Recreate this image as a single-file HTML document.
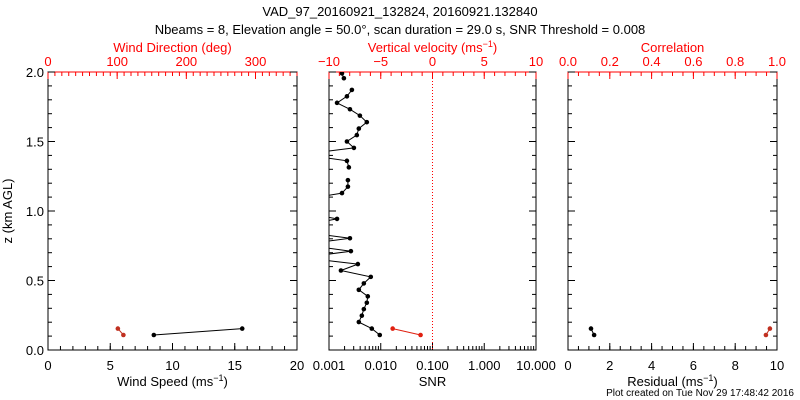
<!DOCTYPE html>
<html><head><meta charset="utf-8"><style>
body{margin:0;background:#fff;}
svg{display:block;font-family:"Liberation Sans",sans-serif;}
</style></head><body>
<svg id="c" width="800" height="400"></svg>
<script>
const heights=[0.108,0.154,0.201,0.247,0.294,0.340,0.386,0.433,0.479,0.526,0.572,0.618,0.665,0.711,0.758,0.804,0.850,0.897,0.943,0.990,1.036,1.082,1.129,1.175,1.222,1.268,1.314,1.361,1.407,1.454,1.500,1.546,1.593,1.639,1.686,1.732,1.778,1.825,1.871,1.918,1.955,1.99];
const snr=[0.00957,0.00671,0.00377,0.00431,0.00471,0.00538,0.00562,0.00377,0.00471,0.00642,0.0017,0.00361,0.0003,0.00265,0.0003,0.00254,0.0003,0.0003,0.00143,0.0003,0.0003,0.0003,0.00178,0.00232,0.00232,null,0.00242,0.00222,0.0003,0.00303,0.00222,0.00345,0.00377,0.00538,0.00395,0.00254,0.00143,0.00222,0.00277,null,0.00194,0.00178];
const lowHeights=[0.108,0.154];
const snrRed=[0.0588,0.017];
const windSpeed=[8.5,15.6];
const windDir=[109,101];
const residual=[1.25,1.1];
const correlation=[0.947,0.966];
const NS="http://www.w3.org/2000/svg";
const svg=document.getElementById('c');
function el(t,a,p){const e=document.createElementNS(NS,t);for(const k in a)e.setAttribute(k,a[k]);(p||svg).appendChild(e);return e;}
function txt(x,y,s,opt){const e=el('text',Object.assign({x:x,y:y,'font-size':13,'text-anchor':'middle',fill:'#000'},opt||{}));e.textContent=s;return e;}
const T=72,B=350;
const yS=z=>B-(z/2)*(B-T);
const P=[{x0:48,x1:297},{x0:329,x1:536},{x0:568,x1:777}];
const lin=(p,a,b)=>v=>p.x0+(v-a)/(b-a)*(p.x1-p.x0);
const sx=[lin(P[0],0,20),v=>P[1].x0+(Math.log10(v)+3)/4*(P[1].x1-P[1].x0),lin(P[2],0,10)];
const tx=[lin(P[0],0,360),lin(P[1],-10,10),lin(P[2],0,1)];
// titles
let t=txt(400,16,'VAD_97_20160921_132824, 20160921.132840');

t=txt(400,34,'Nbeams = 8, Elevation angle = 50.0°, scan duration = 29.0 s, SNR Threshold = 0.008');

t=txt(12,211,'z (km AGL)',{transform:'rotate(-90 12 211)'});

t=txt(794,396,'Plot created on Tue Nov 29 17:48:42 2016',{'font-size':10,'text-anchor':'end'});

function ticks(xf,maj,min,y,dir,col,name){
  const g=el('g',{stroke:col});
  min.forEach(v=>el('line',{x1:xf(v),x2:xf(v),y1:y,y2:y+dir*4},g));
  maj.forEach(v=>el('line',{x1:xf(v),x2:xf(v),y1:y,y2:y+dir*7},g));
}
function range(a,b,s){const r=[];for(let v=a;v<=b+1e-9;v+=s)r.push(+v.toFixed(6));return r;}
// panels
const botLabels=[['0','5','10','15','20'],['0.001','0.010','0.100','1.000','10.000'],['0','2','4','6','8','10']];
const botVals=[[0,5,10,15,20],[0.001,0.01,0.1,1,10],[0,2,4,6,8,10]];
const topLabels=[['0','100','200','300'],['−10','−5','0','5','10'],['0.0','0.2','0.4','0.6','0.8','1.0']];
const topVals=[[0,100,200,300],[-10,-5,0,5,10],[0,0.2,0.4,0.6,0.8,1]];
const botTitles=['Wind Speed (ms<tspan baseline-shift="super" font-size="9">−1</tspan>)','SNR','Residual (ms<tspan baseline-shift="super" font-size="9">−1</tspan>)'];
const topTitles=['Wind Direction (deg)','Vertical velocity (ms<tspan baseline-shift="super" font-size="9">−1</tspan>)','Correlation'];
const logMin=[];for(let d=-3;d<1;d++)for(let k=2;k<=9;k++)logMin.push(k*Math.pow(10,d));
const botMin=[range(0,20,1),logMin,range(0,10,0.5)];
const topMin=[range(0,360,10),range(-10,10,1),range(0,1,0.05)];
P.forEach((p,i)=>{
  const f=el('rect',{x:p.x0,y:T,width:p.x1-p.x0,height:B-T,fill:'none',stroke:'#000'});
  
  el('line',{x1:p.x0,x2:p.x1,y1:T,y2:T,stroke:'red'});
  ticks(sx[i],botVals[i],botMin[i],B,-1,'#000','bottom-axis-'+(i+1));
  ticks(tx[i],topVals[i],topMin[i],T,1,'red','top-axis-'+(i+1));
  botVals[i].forEach((v,j)=>txt(sx[i](v),370,botLabels[i][j]));
  topVals[i].forEach((v,j)=>txt(tx[i](v),66,topLabels[i][j],{fill:'red'}));
  let e=txt((p.x0+p.x1)/2,386,'');e.innerHTML=botTitles[i];
  
  e=txt((p.x0+p.x1)/2,52,'',{fill:'red'});e.innerHTML=topTitles[i];
  
});
// y axis ticks left panel
const yMaj=[0,0.5,1,1.5,2],yMin=range(0,2,0.1);
const yg=el('g',{stroke:'#000'});

P.forEach(p=>{yMin.forEach(v=>{el('line',{x1:p.x0,x2:p.x0+(yMaj.includes(v)?7:4),y1:yS(v),y2:yS(v)},yg);el('line',{x1:p.x1,x2:p.x1-(yMaj.includes(v)?7:4),y1:yS(v),y2:yS(v)},yg);});});
yMaj.forEach(v=>txt(44,yS(v)+5,v.toFixed(1),{'text-anchor':'end'}));
// zero velocity dotted line
let zl=el('line',{x1:tx[1](0),x2:tx[1](0),y1:T,y2:B,stroke:'red','stroke-dasharray':'1,2'});

// clip
const defs=el('defs',{});
P.forEach((p,i)=>{const c=el('clipPath',{id:'cl'+i},defs);el('rect',{x:p.x0,y:T,width:p.x1-p.x0,height:B-T},c);});
function series(xs,zs,xf,col,i,name){
  const g=el('g',{'clip-path':'url(#cl'+i+')'});
  
  let d='',pen=false;
  xs.forEach((v,j)=>{if(v==null){pen=false;return;}d+=(pen?'L':'M')+xf(v).toFixed(1)+' '+yS(zs[j]).toFixed(1);pen=true;});
  el('path',{d:d,fill:'none',stroke:col,'stroke-width':1},g);
  xs.forEach((v,j)=>{if(v==null)return;const x=xf(v);if(x<P[i].x0)return;
    const m=el('circle',{cx:x,cy:yS(zs[j]),r:2.3,fill:col},g);
    });
}
series(windSpeed,lowHeights,sx[0],'#000',0,'wind-speed-series');
series(windDir,lowHeights,tx[0],'#c03020',0,'wind-direction-series');
series(snr,heights,sx[1],'#000',1,'snr-series');
series(snrRed,lowHeights,sx[1],'#e02010',1,'snr-low-series');
series(residual,lowHeights,sx[2],'#000',2,'residual-series');
series(correlation,lowHeights,tx[2],'#c03020',2,'correlation-series');
</script>
</body></html>
